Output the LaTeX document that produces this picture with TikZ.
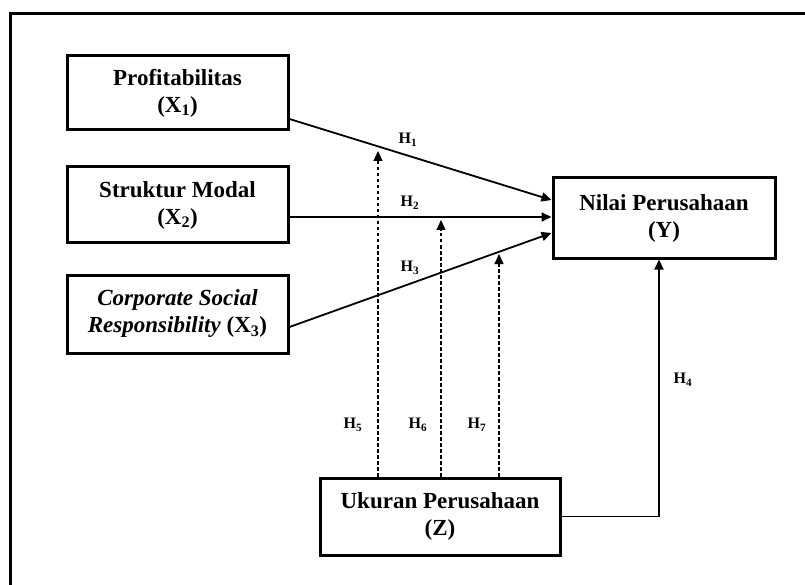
\documentclass[tikz,border=0pt]{standalone}
\usepackage{fontspec}
\setmainfont{Liberation Serif}
\usetikzlibrary{arrows.meta}
\begin{document}
\begin{tikzpicture}[x=1pt,y=-1pt,
  box/.style={draw,line width=3pt,align=center,inner sep=0pt,
    font=\fontsize{23}{27}\selectfont\bfseries},
  arr/.style={line width=1.8pt,-{Triangle[length=10pt,width=9pt]}},
  dasharr/.style={line width=1.3pt,dash pattern=on 3.5pt off 2.5pt,
    -{Triangle[length=10pt,width=9pt]}},
  lbl/.style={font=\fontsize{16}{18}\selectfont\bfseries,inner sep=0pt}]
\useasboundingbox (0,0) rectangle (805,585);
\draw[line width=3pt] (10,600) -- (10,14) -- (820,14);

\node[box,minimum width=221pt,minimum height=74pt] (x1) at (177.5,93)
  {Profitabilitas\\(X\textsubscript{1})};
\node[box,minimum width=221pt,minimum height=76pt] (x2) at (177.5,205)
  {Struktur Modal\\(X\textsubscript{2})};
\node[box,minimum width=221pt,minimum height=78pt] (x3) at (177.5,314)
  {\textit{Corporate Social}\\\textit{Responsibility} (X\textsubscript{3})};
\node[box,minimum width=222pt,minimum height=80pt] (y) at (664,218)
  {Nilai Perusahaan\\(Y)};
\node[box,minimum width=240pt,minimum height=77pt] (z) at (440,516.5)
  {Ukuran Perusahaan\\(Z)};

\draw[arr] ([yshift=-26pt]x1.east) -- ([yshift=18pt]y.west);
\draw[arr] ([yshift=-12pt]x2.east) -- ([yshift=1pt]y.west);
\draw[arr] ([yshift=-13pt]x3.east) -- ([yshift=-15pt]y.west);
\draw[arr] (z.east) -| ([xshift=-5pt]y.south);

\coordinate (t1) at (378,151);
\coordinate (t2) at (441,220);
\coordinate (t3) at (499,254);
\draw[dasharr] (z.north -| t1) -- (t1);
\draw[dasharr] (z.north -| t2) -- (t2);
\draw[dasharr] (z.north -| t3) -- (t3);

\node[lbl] (h1) at (408,140) {H\textsubscript{1}};
\node[lbl] (h2) at (410,203) {H\textsubscript{2}};
\node[lbl] (h3) at (410,268) {H\textsubscript{3}};
\node[lbl] (h4) at (683,380) {H\textsubscript{4}};
\node[lbl] (h5) at (353,425) {H\textsubscript{5}};
\node[lbl] (h6) at (418,425) {H\textsubscript{6}};
\node[lbl] (h7) at (477,425) {H\textsubscript{7}};
\end{tikzpicture}
\end{document}
